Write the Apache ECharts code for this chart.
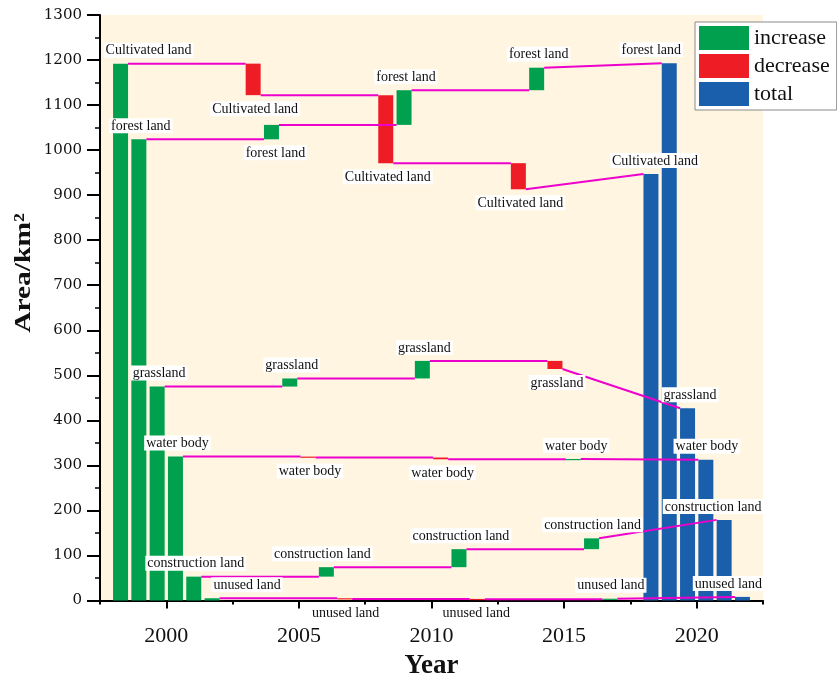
<!DOCTYPE html>
<html><head><meta charset="utf-8">
<script src="https://cdn.jsdelivr.net/npm/echarts@6/dist/echarts.min.js"></script>
<style>html,body{margin:0;padding:0;background:#fff}#c{width:837px;height:677px}</style>
</head><body><div id="c"></div>
<script>
// ---------------- data ----------------
const years = [2000, 2005, 2010, 2015, 2020];
const landTypes = ['Cultivated land', 'forest land', 'grassland', 'water body', 'construction land', 'unused land'];
// level of each land type at each year (last value = 2020 total)
const cultivatedLand   = [1192, 1122, 971, 913, 947];
const forestLand       = [1024, 1056, 1133, 1183, 1193];
const grassland        = [475, 493, 532, 514, 427];
const waterBody        = [319.5, 317.5, 313.5, 314.2, 312.5];
const constructionLand = [53, 74, 114, 138, 179];
const unusedLand       = [5, 3.5, 3, 4, 8];
const legendNames = ['increase', 'decrease', 'total'];

// ---------------- layout / style ----------------
const SLOT = 0.69;   // spacing (years) of neighbouring bars inside one year group
const BAR_W = 15;    // bar width px
const LINK_COLOR = '#EE00CC';
const COLORS = { increase: '#00A04F', decrease: '#EE1C25', total: '#1A5FAB' };
const labelSide = [
  ['top', 'top', 'top', 'top', 'top', 'top'],
  ['bottom', 'bottom', 'top', 'bottom', 'top', 'bottom'],
  ['bottom', 'top', 'top', 'bottom', 'top', 'bottom'],
  ['bottom', 'top', 'bottom', 'top', 'top', 'top'],
  ['top', 'top', 'top', 'top', 'top', 'top']
];
const labelShift = [
  [28, 2, 2, 2, 2, 35],
  [2, 4, 2, 2, -4, 1],
  [2, 2, 2, 2, 2, -1],
  [2, 2, 2, 3, 1, 1],
  [4, -18, 2.5, 1, -11, -14]
];

// ---------------- build ----------------
const levels = [cultivatedLand, forestLand, grassland, waterBody, constructionLand, unusedLand];
const barData = { increase: [], decrease: [], total: [] };
const links = [];
const labelData = [];
const labelInfo = [];
const last = years.length - 1;
levels.forEach((v, t) => {
  years.forEach((yr, p) => {
    const x = yr + (t - 2.5) * SLOT;
    let lo, hi, kind;
    if (p === 0) { lo = 0; hi = v[0]; kind = 'increase'; }
    else if (p === last) { lo = 0; hi = v[p]; kind = 'total'; }
    else {
      lo = Math.min(v[p - 1], v[p]); hi = Math.max(v[p - 1], v[p]);
      kind = v[p] >= v[p - 1] ? 'increase' : 'decrease';
    }
    barData[kind].push([x, lo, hi]);
    labelData.push([x, lo, hi]);
    labelInfo.push({ text: landTypes[t], side: labelSide[p][t], dx: labelShift[p][t] });
    if (p < last) {
      const nx = years[p + 1] + (t - 2.5) * SLOT;
      links.push([x, v[p], nx, (p + 1 === last) ? v[p + 1] : v[p]]);
    }
  });
});

function barItem(params, api) {
  const x = api.value(0);
  const a = api.coord([x, api.value(2)]);
  const b = api.coord([x, api.value(1)]);
  const h = Math.max(b[1] - a[1], 1.2);
  return { type: 'rect', shape: { x: a[0] - BAR_W / 2, y: a[1], width: BAR_W, height: h }, style: api.style() };
}
function linkItem(params, api) {
  const p1 = api.coord([api.value(0), api.value(1)]);
  const p2 = api.coord([api.value(2), api.value(3)]);
  return { type: 'line', shape: { x1: p1[0] + BAR_W / 2, y1: p1[1], x2: p2[0] - BAR_W / 2, y2: p2[1] },
           style: { stroke: LINK_COLOR, lineWidth: 2 } };
}
function labelItem(params, api) {
  const info = labelInfo[params.dataIndex];
  const x = api.value(0);
  const top = info.side === 'top';
  const pt = api.coord([x, top ? api.value(2) : api.value(1)]);
  return {
    type: 'text', x: pt[0] + info.dx, y: top ? pt[1] - 6 : pt[1] + 6,
    style: { text: info.text, font: '14px "Liberation Serif"', fill: '#111', align: 'center',
             verticalAlign: top ? 'bottom' : 'top', backgroundColor: '#fff', padding: [1, 2, 0, 2] }
  };
}

const series = legendNames.map(n => ({
  name: n, type: 'custom', renderItem: barItem, data: barData[n], z: 2,
  itemStyle: { color: COLORS[n] }, encode: { x: 0, y: [1, 2] }, clip: false
}));
series.push({ name: 'links', type: 'custom', renderItem: linkItem, data: links, z: 3,
  encode: { x: [0, 2], y: [1, 3] }, silent: true, clip: false });
series.push({ name: 'labels', type: 'custom', renderItem: labelItem, data: labelData, z: 4,
  encode: { x: 0, y: [1, 2] }, silent: true, clip: false });

const chart = echarts.init(document.getElementById('c'), null, { renderer: 'canvas' });
chart.setOption({
  animation: false,
  backgroundColor: '#fff',
  grid: { left: 100, top: 15, width: 663, height: 585.5, show: true, backgroundColor: '#FFF5E1', borderWidth: 0,
          containLabel: false, outerBoundsMode: 'none' },
  legend: {
    data: legendNames, orient: 'vertical', left: 695, top: 22, itemWidth: 50, itemHeight: 24, itemGap: 4,
    padding: [4, 7, 4, 4], backgroundColor: '#fff', borderColor: '#8a8a8a', borderWidth: 1, icon: 'rect',
    selectedMode: false, textStyle: { fontFamily: 'Liberation Serif', fontSize: 22, color: '#111' }
  },
  xAxis: [{
    type: 'value', min: 1997.5, max: 2022.5, interval: 2.5, position: 'bottom',
    axisLine: { show: true, onZero: false, lineStyle: { color: '#000', width: 2 } },
    axisTick: { show: true, length: 4, lineStyle: { color: '#000', width: 2 } },
    axisLabel: {
      formatter: v => (Math.abs(v / 5 - Math.round(v / 5)) < 1e-6 ? String(Math.round(v)) : ''),
      margin: 25, fontFamily: 'Liberation Serif', fontSize: 22, color: '#111'
    },
    splitLine: { show: false },
    name: 'Year', nameLocation: 'middle', nameGap: 45,
    nameTextStyle: { fontFamily: 'Liberation Serif', fontWeight: 'bold', fontSize: 27, color: '#111' }
  }, {
    type: 'value', min: 1997.5, max: 2022.5, position: 'bottom',
    axisLine: { show: false },
    axisTick: { show: true, customValues: years, length: 8, lineStyle: { color: '#000', width: 2 } },
    axisLabel: { show: false }, splitLine: { show: false }
  }],
  yAxis: {
    type: 'value', min: 0, max: 1300, interval: 100,
    axisLine: { show: true, onZero: false, lineStyle: { color: '#000', width: 2 } },
    axisTick: { show: true, length: 13, lineStyle: { color: '#000', width: 2 } },
    minorTick: { show: true, splitNumber: 2, length: 5, lineStyle: { color: '#000', width: 1.5 } },
    axisLabel: { margin: 18, fontFamily: 'DejaVu Serif', fontSize: 15, color: '#111', formatter: v => String(v) },
    splitLine: { show: false }
  },
  graphic: [{
    type: 'text', x: 24, y: 273, rotation: Math.PI / 2, scaleX: 1.28,
    style: { text: 'Area/km²', font: 'bold 23px "Liberation Serif"', fill: '#111', align: 'center', verticalAlign: 'middle' }
  }],
  series: series
});
</script></body></html>
